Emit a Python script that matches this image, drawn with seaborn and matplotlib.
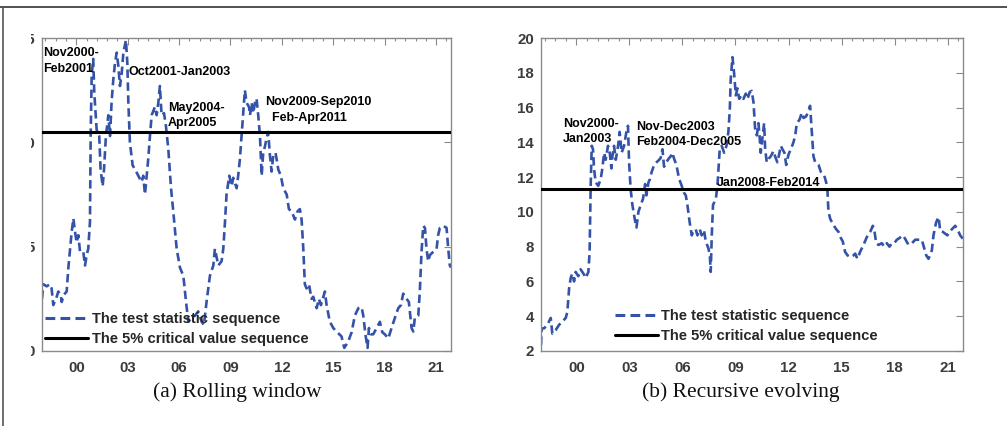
import numpy as np
import matplotlib
matplotlib.use("Agg")
import matplotlib.pyplot as plt
from matplotlib.lines import Line2D
from matplotlib.patches import Rectangle
from matplotlib.ticker import FixedLocator
import seaborn as sns

# ---------------- data (decimal years, statistic values) ----------------
roll_t = [1998.00, 1998.08, 1998.27, 1998.47, 1998.56, 1998.66, 1998.86, 1998.95, 1999.09, 1999.15,
          1999.28, 1999.44, 1999.54, 1999.73, 1999.83, 1999.93, 2000.02, 2000.12, 2000.22, 2000.41,
          2000.51, 2000.61, 2000.70, 2000.80, 2000.84, 2000.90, 2000.99, 2001.05, 2001.19, 2001.34,
          2001.42, 2001.54, 2001.62, 2001.73, 2001.87, 2001.97, 2002.06, 2002.16, 2002.26, 2002.36,
          2002.45, 2002.55, 2002.65, 2002.75, 2002.90, 2002.98, 2003.04, 2003.13, 2003.29, 2003.43,
          2003.62, 2003.81, 2003.91, 2004.01, 2004.11, 2004.20, 2004.30, 2004.40, 2004.59, 2004.69,
          2004.79, 2004.88, 2004.98, 2005.12, 2005.23, 2005.37, 2005.53, 2005.66, 2005.86, 2006.05,
          2006.25, 2006.40, 2006.54, 2006.73, 2006.93, 2007.12, 2007.32, 2007.45, 2007.61, 2007.80,
          2008.00, 2008.09, 2008.29, 2008.48, 2008.58, 2008.68, 2008.77, 2008.93, 2009.07, 2009.16,
          2009.36, 2009.45, 2009.55, 2009.71, 2009.84, 2009.94, 2010.08, 2010.14, 2010.23, 2010.33,
          2010.43, 2010.52, 2010.62, 2010.72, 2010.82, 2010.91, 2011.01, 2011.11, 2011.20, 2011.30,
          2011.40, 2011.50, 2011.63, 2011.79, 2011.94, 2012.08, 2012.28, 2012.41, 2012.57, 2012.76,
          2012.92, 2013.05, 2013.15, 2013.25, 2013.34, 2013.44, 2013.58, 2013.73, 2013.83, 2014.03,
          2014.16, 2014.28, 2014.51, 2014.61, 2014.80, 2015.00, 2015.19, 2015.39, 2015.48, 2015.64,
          2015.87, 2016.07, 2016.26, 2016.46, 2016.65, 2016.75, 2016.88, 2017.00, 2017.08, 2017.20,
          2017.33, 2017.53, 2017.72, 2017.86, 2018.01, 2018.21, 2018.40, 2018.60, 2018.79, 2018.95,
          2019.08, 2019.28, 2019.41, 2019.57, 2019.67, 2019.76, 2019.96, 2020.05, 2020.15, 2020.25,
          2020.35, 2020.44, 2020.54, 2020.64, 2020.83, 2021.03, 2021.12, 2021.22, 2021.42, 2021.61,
          2021.71, 2021.80, 2021.87]
roll_v = [2.5, 3.2, 3.1, 3.2, 3.0, 2.2, 2.6, 2.85, 2.7, 2.35,
          2.7, 2.85, 4.0, 5.7, 6.35, 5.7, 5.2, 5.55, 4.75, 4.75,
          4.1, 4.6, 4.9, 6.2, 10.3, 13.2, 14.0, 12.4, 10.6, 10.3,
          8.7, 7.9, 8.7, 10.3, 11.3, 10.3, 11.9, 13.0, 13.8, 14.3,
          13.7, 12.7, 13.3, 14.3, 14.9, 13.8, 11.9, 10.0, 8.9, 8.7,
          8.4, 8.1, 8.4, 7.5, 8.4, 9.2, 10.3, 11.3, 11.7, 11.3,
          11.9, 12.7, 11.3, 11.4, 10.8, 9.7, 7.8, 6.7, 4.9, 4.0,
          3.6, 2.4, 1.4, 1.6, 1.7, 1.9, 1.4, 1.25, 2.4, 3.6,
          4.1, 4.9, 4.1, 4.3, 4.9, 6.2, 7.5, 8.4, 7.9, 8.3,
          7.8, 8.4, 9.2, 11.0, 12.5, 11.9, 11.7, 11.3, 11.9, 11.4,
          11.9, 12.1, 11.3, 10.3, 8.4, 9.5, 9.8, 10.2, 10.5, 9.4,
          8.6, 9.4, 9.5, 8.7, 8.4, 7.8, 7.5, 6.8, 6.7, 6.3,
          6.7, 6.8, 6.3, 4.9, 3.2, 3.0, 3.2, 2.5, 2.6, 2.05,
          2.5, 2.2, 2.85, 2.2, 1.4, 1.1, 0.93, 0.77, 0.7, 0.15,
          0.45, 0.9, 1.7, 2.05, 2.1, 1.7, 0.77, 0.15, 1.1, 0.8,
          0.8, 1.1, 1.4, 0.9, 0.8, 0.6, 1.1, 1.6, 2.05, 2.2,
          2.75, 2.5, 2.35, 1.1, 0.93, 1.6, 1.7, 2.85, 4.75, 6.0,
          5.9, 4.9, 4.3, 4.6, 4.75, 4.9, 5.55, 5.9, 6.0, 5.9,
          4.9, 4.1, 4.0]

rec_t = [1998.00, 1998.04, 1998.17, 1998.36, 1998.55, 1998.64, 1998.83, 1999.02, 1999.21, 1999.40,
         1999.49, 1999.59, 1999.68, 1999.77, 1999.87, 1999.96, 2000.11, 2000.24, 2000.43, 2000.53,
         2000.68, 2000.75, 2000.81, 2000.87, 2000.94, 2001.00, 2001.09, 2001.24, 2001.38, 2001.47,
         2001.57, 2001.66, 2001.79, 2001.89, 2001.98, 2002.04, 2002.13, 2002.23, 2002.36, 2002.45,
         2002.56, 2002.70, 2002.83, 2002.92, 2002.98, 2003.07, 2003.17, 2003.30, 2003.40, 2003.51,
         2003.64, 2003.77, 2003.89, 2003.96, 2004.08, 2004.17, 2004.26, 2004.40, 2004.53, 2004.64,
         2004.77, 2004.87, 2004.96, 2005.09, 2005.21, 2005.34, 2005.43, 2005.53, 2005.66, 2005.81,
         2005.96, 2006.09, 2006.19, 2006.28, 2006.41, 2006.53, 2006.60, 2006.75, 2006.85, 2006.98,
         2007.09, 2007.22, 2007.32, 2007.47, 2007.55, 2007.60, 2007.66, 2007.73, 2007.89, 2007.98,
         2008.04, 2008.11, 2008.22, 2008.36, 2008.49, 2008.60, 2008.68, 2008.73, 2008.83, 2008.92,
         2009.02, 2009.11, 2009.21, 2009.34, 2009.45, 2009.58, 2009.68, 2009.81, 2009.92, 2010.02,
         2010.11, 2010.21, 2010.30, 2010.36, 2010.43, 2010.54, 2010.62, 2010.68, 2010.77, 2010.87,
         2011.00, 2011.15, 2011.24, 2011.37, 2011.49, 2011.56, 2011.66, 2011.77, 2011.87, 2012.00,
         2012.13, 2012.28, 2012.38, 2012.47, 2012.62, 2012.75, 2012.85, 2013.00, 2013.13, 2013.22,
         2013.32, 2013.41, 2013.51, 2013.70, 2013.83, 2014.02, 2014.13, 2014.20, 2014.26, 2014.36,
         2014.51, 2014.70, 2014.83, 2014.96, 2015.07, 2015.20, 2015.34, 2015.49, 2015.68, 2015.77,
         2015.90, 2016.05, 2016.24, 2016.43, 2016.62, 2016.77, 2016.86, 2016.96, 2017.09, 2017.28,
         2017.41, 2017.56, 2017.71, 2017.85, 2017.98, 2018.13, 2018.28, 2018.47, 2018.60, 2018.73,
         2018.85, 2018.98, 2019.17, 2019.35, 2019.54, 2019.68, 2019.79, 2019.92, 2020.11, 2020.20,
         2020.35, 2020.49, 2020.58, 2020.73, 2020.86, 2020.99, 2021.11, 2021.24, 2021.43, 2021.56,
         2021.71, 2021.87]
rec_v = [2.35, 3.3, 3.3, 3.5, 3.9, 3.0, 3.2, 3.5, 3.7, 3.9,
         4.25, 5.6, 6.2, 6.45, 6.0, 6.55, 6.3, 6.7, 6.4, 6.2,
         6.55, 7.7, 11.5, 13.8, 13.6, 12.5, 11.7, 11.5, 11.9, 12.5,
         13.4, 13.0, 13.8, 13.4, 12.5, 13.2, 13.8, 13.0, 13.8, 14.6,
         13.4, 13.8, 14.6, 14.95, 12.9, 11.3, 10.4, 9.6, 9.1, 10.0,
         10.4, 10.75, 11.6, 10.95, 11.7, 11.9, 12.3, 12.7, 12.85, 12.95,
         13.1, 13.6, 12.6, 12.85, 13.05, 13.2, 13.4, 13.05, 12.7, 11.9,
         11.5, 11.1, 10.95, 10.4, 9.4, 8.65, 8.85, 9.0, 8.65, 9.0,
         8.65, 8.95, 8.3, 7.9, 7.5, 6.55, 8.65, 10.4, 10.75, 11.5,
         12.5, 13.6, 13.8, 13.4, 13.8, 14.6, 15.9, 17.6, 18.9, 18.0,
         16.7, 17.1, 16.5, 16.7, 16.5, 16.8, 16.5, 16.9, 16.96, 16.3,
         14.8, 14.4, 15.1, 14.4, 13.4, 14.4, 15.1, 13.6, 12.85, 13.05,
         13.2, 13.5, 13.2, 12.85, 13.4, 13.8, 13.6, 13.4, 12.7, 13.3,
         13.6, 14.0, 14.4, 15.1, 15.3, 15.7, 15.4, 15.5, 15.8, 16.1,
         14.6, 13.2, 12.85, 12.7, 12.3, 12.1, 11.7, 11.3, 10.0, 9.6,
         9.3, 9.0, 8.85, 8.5, 8.3, 7.7, 7.5, 7.4, 7.5, 7.6,
         7.3, 7.7, 8.1, 8.55, 8.85, 9.2, 8.9, 8.2, 8.1, 8.2,
         8.0, 8.2, 8.0, 8.2, 8.2, 8.4, 8.5, 8.65, 8.45, 8.2,
         8.1, 8.2, 8.4, 8.4, 8.4, 7.9, 7.5, 7.3, 7.8, 8.65,
         9.4, 9.7, 8.9, 8.85, 8.75, 8.65, 8.85, 9.0, 9.2, 9.0,
         8.65, 8.45]

crit_roll = 10.5
crit_rec = 11.3

xtick_years = [2000, 2003, 2006, 2009, 2012, 2015, 2018, 2021]
xtick_labels = ["00", "03", "06", "09", "12", "15", "18", "21"]
roll_yticks = [0, 5, 10, 15]
rec_yticks = [2, 4, 6, 8, 10, 12, 14, 16, 18, 20]

roll_notes = [(1998.06, 14.55, "Nov2000-\nFeb2001"),
              (2003.02, 13.65, "Oct2001-Jan2003"),
              (2005.35, 11.95, "May2004-\nApr2005"),
              (2011.01, 12.20, "Nov2009-Sep2010\n  Feb-Apr2011")]
rec_notes = [(1999.25, 15.42, "Nov2000-\nJan2003"),
             (2003.38, 15.22, "Nov-Dec2003\nFeb2004-Dec2005"),
             (2007.96, 12.02, "Jan2008-Feb2014")]

leg_labels = ["The test statistic sequence", "The 5% critical value sequence"]
captions = ["(a) Rolling window", "(b) Recursive evolving"]

# ---------------- style ----------------
sns.set_style("white")
plt.rcParams["font.family"] = ["Liberation Sans", "DejaVu Sans"]
plt.rcParams["font.weight"] = "bold"

BLUE = "#3452A8"
SPINE = "#8a8a8a"
TXT = "#3c3c3c"
DASH = (0, (3.2, 1.7))

W, H = 1007, 426
fig = plt.figure(figsize=(W / 100, H / 100), dpi=100)
fig.patch.set_facecolor("white")

ax1 = fig.add_axes([42 / W, 1 - 351 / H, 409 / W, 313 / H])
ax2 = fig.add_axes([541 / W, 1 - 351 / H, 422 / W, 313 / H])

minor_x = np.arange(1998.2, 2022.0, 0.6)

def style_axes(ax, ylim, yticks, notes, crit, t, v, leg_anchor):
    sns.lineplot(x=t, y=v, ax=ax, color=BLUE, lw=1.9, sort=False,
                 estimator=None, label=leg_labels[0])
    ax.lines[-1].set_linestyle(DASH)
    ax.axhline(crit, color="black", lw=2.2, label=leg_labels[1], zorder=3)
    ax.set_xlim(1998.0, 2021.87)
    ax.set_ylim(*ylim)
    ax.xaxis.set_major_locator(FixedLocator(xtick_years))
    ax.set_xticklabels(xtick_labels)
    ax.xaxis.set_minor_locator(FixedLocator(minor_x))
    ax.set_yticks(yticks)
    ax.set_xlabel("")
    ax.set_ylabel("")
    for s in ax.spines.values():
        s.set_visible(True)
        s.set_color(SPINE)
        s.set_linewidth(1.0)
    ax.tick_params(which="both", direction="in", top=True, right=True,
                   color=SPINE, width=0.8)
    ax.tick_params(which="major", length=5, labelsize=10.8, labelcolor=TXT, pad=5)
    ax.tick_params(axis="x", which="major", pad=7.5)
    ax.tick_params(which="minor", length=2.5)
    ax.tick_params(axis="y", which="minor", left=False, right=False)
    for lab in ax.get_xticklabels() + ax.get_yticklabels():
        lab.set_fontweight("bold")
    for (x, y, s) in notes:
        ax.text(x, y, s, fontsize=9, fontweight="bold", color="black",
                ha="left", va="top", linespacing=1.35, zorder=5)
    leg = ax.legend(loc="lower left", bbox_to_anchor=leg_anchor, frameon=False,
                    prop={"weight": "bold", "size": 10.6}, handlelength=2.9,
                    handletextpad=0.25, labelspacing=0.42, borderpad=0,
                    borderaxespad=0)
    for h in leg.get_lines():
        h.set_linewidth(2.2)
    leg.get_lines()[0].set_color(BLUE)

style_axes(ax1, (0, 15), roll_yticks, roll_notes, crit_roll, roll_t, roll_v, (0.008, 0.016))
style_axes(ax2, (2, 20), rec_yticks, rec_notes, crit_rec, rec_t, rec_v, (0.175, 0.026))

# captions
fig.text(237 / W, 1 - 392 / H, captions[0], ha="center", va="center",
         family="Liberation Serif", fontweight="normal", fontsize=15.5, color="#111111")
fig.text(741 / W, 1 - 392 / H, captions[1], ha="center", va="center",
         family="Liberation Serif", fontweight="normal", fontsize=15.5, color="#111111")

# cropped left edge of the original page: hide most of the left panel's y labels
fig.patches.append(Rectangle((5 / W, 0.05), 26 / W, 0.88, transform=fig.transFigure,
                             facecolor="white", edgecolor="none", zorder=10))
# page frame lines
fig.add_artist(Line2D([0, 1], [1 - 7 / H, 1 - 7 / H], transform=fig.transFigure,
                      color="#333333", lw=1.2, zorder=11))
fig.add_artist(Line2D([3 / W, 3 / W], [0, 1 - 7 / H], transform=fig.transFigure,
                      color="#555555", lw=1.2, zorder=11))

fig.savefig("out.png", dpi=100, facecolor="white")
